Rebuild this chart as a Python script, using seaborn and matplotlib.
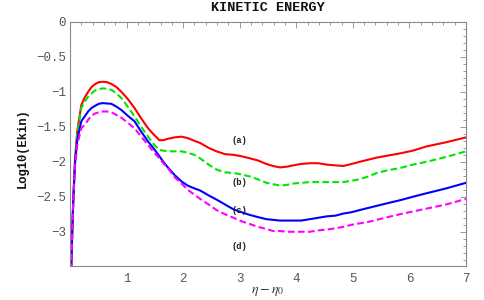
import numpy as np
import pandas as pd
import matplotlib
matplotlib.use("Agg")
import matplotlib.pyplot as plt
import seaborn as sns
from matplotlib.ticker import FixedLocator, FixedFormatter, MultipleLocator

# ---- data ----
x = [0.02, 0.04, 0.06, 0.09, 0.13,
     0.20, 0.26, 0.32, 0.38, 0.44,
     0.51, 0.58, 0.65, 0.73, 0.82,
     0.91, 1.02, 1.14, 1.26, 1.38,
     1.48, 1.58, 1.65, 1.73, 1.85,
     1.97, 2.08, 2.20, 2.30, 2.45,
     2.59, 2.74, 2.89, 3.03, 3.18,
     3.32, 3.47, 3.59, 3.71, 3.83,
     3.95, 4.09, 4.24, 4.39, 4.54,
     4.69, 4.83, 4.98, 5.12, 5.27,
     5.42, 5.62, 5.83, 6.06, 6.30,
     6.65, 7.0]
ya = [-3.55, -3.0, -2.5, -1.95, -1.55,
      -1.19, -1.08, -1.0, -0.93, -0.89,
      -0.86, -0.855, -0.86, -0.886, -0.93,
      -1.0, -1.10, -1.23, -1.38, -1.52,
      -1.61, -1.69, -1.69, -1.67, -1.65,
      -1.64, -1.66, -1.70, -1.73, -1.80,
      -1.85, -1.89, -1.90, -1.92, -1.95,
      -1.98, -2.03, -2.06, -2.08, -2.07,
      -2.05, -2.03, -2.02, -2.02, -2.04,
      -2.05, -2.06, -2.03, -2.00, -1.97,
      -1.94, -1.91, -1.88, -1.84, -1.78,
      -1.72, -1.65]
yb = [-3.55, -3.0, -2.5, -1.97, -1.58,
      -1.23, -1.14, -1.07, -1.02, -0.98,
      -0.96, -0.95, -0.955, -0.97, -1.02,
      -1.09, -1.21, -1.35, -1.50, -1.64,
      -1.75, -1.83, -1.84, -1.85, -1.85,
      -1.85, -1.87, -1.90, -1.95, -2.04,
      -2.11, -2.15, -2.16, -2.18, -2.21,
      -2.25, -2.30, -2.32, -2.34, -2.33,
      -2.31, -2.30, -2.29, -2.29, -2.29,
      -2.29, -2.29, -2.27, -2.25, -2.21,
      -2.16, -2.12, -2.09, -2.04, -2.00,
      -1.93, -1.85]
yc = [-3.55, -3.0, -2.5, -2.0, -1.68,
      -1.42, -1.35, -1.28, -1.23, -1.20,
      -1.17, -1.16, -1.165, -1.17, -1.21,
      -1.26, -1.34, -1.42, -1.57, -1.71,
      -1.81, -1.92, -2.00, -2.08, -2.19,
      -2.28, -2.34, -2.38, -2.41, -2.48,
      -2.54, -2.61, -2.68, -2.72, -2.76,
      -2.79, -2.82, -2.83, -2.84, -2.84,
      -2.84, -2.84, -2.82, -2.80, -2.78,
      -2.77, -2.74, -2.72, -2.69, -2.66,
      -2.63, -2.59, -2.55, -2.50, -2.45,
      -2.38, -2.30]
yd = [-3.55, -3.0, -2.52, -2.05, -1.75,
      -1.52, -1.47, -1.40, -1.34, -1.31,
      -1.29, -1.28, -1.28, -1.29, -1.33,
      -1.37, -1.44, -1.52, -1.64, -1.76,
      -1.86, -1.95, -2.02, -2.09, -2.22,
      -2.31, -2.40, -2.47, -2.53, -2.61,
      -2.69, -2.75, -2.80, -2.85, -2.89,
      -2.93, -2.96, -2.99, -2.99, -3.00,
      -3.00, -3.00, -3.00, -2.98, -2.97,
      -2.95, -2.93, -2.90, -2.88, -2.86,
      -2.83, -2.79, -2.75, -2.71, -2.67,
      -2.61, -2.53]

series_names = ["(a)", "(b)", "(c)", "(d)"]
label_x = [3.0, 3.0, 3.0, 3.0]
label_y = [-1.70, -2.30, -2.70, -3.21]
xticks = [1, 2, 3, 4, 5, 6, 7]
yticks = [0, -0.5, -1, -1.5, -2, -2.5, -3]
ytick_labels = ["0", "\u22120.5", "\u22121", "\u22121.5", "\u22122", "\u22122.5", "\u22123"]
title = "KINETIC ENERGY"
ylabel = "Log10(Ekin)"
xlabel = r"$\eta-\eta_0$"

# ---- styling ----
colors = ["#ff0000", "#00e600", "#0000ff", "#ff00ff"]
dashes = [None, (3.2, 1.6), None, (3.2, 1.6)]

sns.set_theme(style="white")
plt.rcParams["font.family"] = ["Liberation Mono", "DejaVu Sans"]

fig = plt.figure(figsize=(4.85, 3.0), dpi=100)
ax = fig.add_axes([70 / 485, 1 - 266 / 300, (466 - 70) / 485, (266 - 22) / 300])

ys = [ya, yb, yc, yd]
for name, yv, c, d in zip(series_names, ys, colors, dashes):
    df = pd.DataFrame({"x": x, "y": yv})
    sns.lineplot(data=df, x="x", y="y", ax=ax, color=c, lw=1.5,
                 sort=False, estimator=None)
    ln = ax.lines[-1]
    if d is not None:
        ln.set_dashes(d)
    ln.set_solid_joinstyle("round")
    ln.set_dash_joinstyle("round")
    ln.set_solid_capstyle("round")

for name, lx, ly in zip(series_names, label_x, label_y):
    ax.text(lx, ly, name, ha="center", va="center", fontsize=6.3,
            fontweight="bold", color="#222222")

ax.set_xlim(0, 7)
ax.set_ylim(-3.49, 0)
ax.xaxis.set_major_locator(FixedLocator(xticks))
ax.xaxis.set_minor_locator(MultipleLocator(0.2))
ax.yaxis.set_major_locator(FixedLocator(yticks))
ax.yaxis.set_major_formatter(FixedFormatter(ytick_labels))
ax.yaxis.set_minor_locator(MultipleLocator(0.1))
ax.set_xlabel("")
ax.set_ylabel("")

for s in ax.spines.values():
    s.set_color("#8a8a8a")
    s.set_linewidth(0.8)
ax.tick_params(which="both", direction="in", top=True, right=True,
               color="#8a8a8a", width=0.6, labelsize=9, labelcolor="#555555",
               pad=3)
ax.tick_params(which="major", length=4.5)
ax.tick_params(which="minor", length=2.5)
ax.tick_params(axis="x", pad=5)

fig.text(268 / 485, 1 - 8 / 300, title, ha="center", va="center",
         fontsize=9.7, fontweight="bold", color="#111111")
fig.text(22.5 / 485, 1 - 148 / 300, ylabel, ha="center", va="center",
         rotation=90, fontsize=8.7, fontweight="bold", color="#111111")
fig.text(268 / 485, 1 - 291 / 300, xlabel, ha="center", va="center",
         fontsize=10, color="#333333", math_fontfamily="stix")

fig.savefig("out.png", dpi=100)
